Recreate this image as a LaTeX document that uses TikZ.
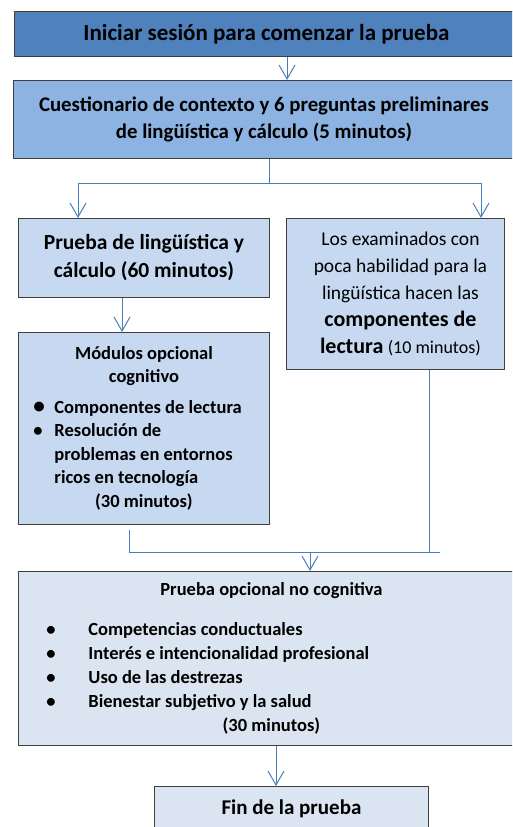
\documentclass[tikz,border=0pt]{standalone}
\usepackage{fontspec}
\setmainfont{Carlito}
\usetikzlibrary{arrows.meta}
\definecolor{dk}{HTML}{4F81BD}
\definecolor{md}{HTML}{8DB3E2}
\definecolor{lt}{HTML}{C6D9F1}
\definecolor{pl}{HTML}{DBE5F1}
\definecolor{ln}{HTML}{4A7EBB}
\begin{document}
\begin{tikzpicture}[x=1pt,y=-1pt,
    box/.style={draw=black!75,line width=0.9pt,anchor=north west,inner sep=0pt,align=center},
    arr/.style={draw=ln,line width=1pt,-{Straight Barb[length=14pt,width=16pt]}},
    lnk/.style={draw=ln,line width=1pt}]
\useasboundingbox (0,0) rectangle (512,827);
\clip (0,0) rectangle (512,827);
\fill[white] (0,0) rectangle (512,827);
\node[box,fill=dk,minimum width=504pt,minimum height=45pt,font=\bfseries\fontsize{23}{26}\selectfont] (ini) at (14,11) {Iniciar sesión para comenzar la prueba};
\node[box,fill=md,minimum width=501pt,minimum height=78pt,font=\bfseries\fontsize{20.8}{27}\selectfont] (cue) at (13,80) {Cuestionario de contexto y 6 preguntas preliminares\\de lingüística y cálculo (5 minutos)};
\node[box,fill=lt,minimum width=251pt,minimum height=79pt,font=\bfseries\fontsize{21.5}{28}\selectfont] (lin) at (18,218) {Prueba de lingüística y\\cálculo (60 minutos)};
\node[box,fill=lt,minimum width=218pt,minimum height=151pt,font=\fontsize{19.5}{27}\selectfont] (com) at (286,218) {\hspace*{10pt}Los examinados con\\\hspace*{10pt}poca habilidad para la\\\hspace*{10pt}lingüística hacen las\\\hspace*{10pt}{\bfseries\fontsize{22}{27}\selectfont componentes de}\\\hspace*{10pt}{\bfseries\fontsize{22}{27}\selectfont lectura} {\fontsize{18}{27}\selectfont(10 minutos)}};
\node[box,fill=lt,minimum width=251pt,minimum height=192pt,font=\bfseries\fontsize{18.5}{23.5}\selectfont] (mod) at (18,332) {\begin{tabular}{@{}p{21pt}@{}p{200pt}@{}}
\multicolumn{2}{c}{Módulos opcional}\\
\multicolumn{2}{c}{cognitivo}\\[7pt]
\scalebox{1.25}{\textbullet} & Componentes de lectura\\
\textbullet & Resolución de\\
 & problemas en entornos\\
 & ricos en tecnología\\
\multicolumn{2}{c}{(30 minutos)}
\end{tabular}};
\node[box,fill=pl,minimum width=506pt,minimum height=174pt,font=\bfseries\fontsize{18.5}{24}\selectfont] (opt) at (18,571) {\begin{tabular}{@{}p{42pt}@{}p{408pt}@{}}
\multicolumn{2}{c}{Prueba opcional no cognitiva}\\[16pt]
\textbullet & Competencias conductuales\\
\textbullet & Interés e intencionalidad profesional\\
\textbullet & Uso de las destrezas\\
\textbullet & Bienestar subjetivo y la salud\\
\multicolumn{2}{c}{(30 minutos)}
\end{tabular}};
\node[box,fill=pl,minimum width=274pt,minimum height=44pt,font=\bfseries\fontsize{21}{24}\selectfont] (fin) at (154,786) {Fin de la prueba};
\coordinate (a1) at (287,0);
\coordinate (sp) at (269,183);
\coordinate (l1) at (78,0);
\coordinate (r1) at (481,0);
\coordinate (a2) at (122,0);
\coordinate (jt) at (129,530);
\coordinate (jl) at (129,552);
\coordinate (jc) at (429,552);
\coordinate (jr) at (440,552);
\coordinate (jm) at (310,552);
\coordinate (a3) at (276,0);
\draw[arr] (ini.south -| a1) -- (cue.north -| a1);
\draw[lnk] (cue.south -| sp) -- (sp);
\draw[arr] (sp) -| (lin.north -| l1);
\draw[arr] (sp) -| (com.north -| r1);
\draw[arr] (lin.south -| a2) -- (mod.north -| a2);
\draw[lnk] (jt) -- (jl) -- (jr);
\draw[lnk] (com.south -| jc) -- (jc);
\draw[arr] (jm) -- (opt.north -| jm);
\draw[arr] (opt.south -| a3) -- (fin.north -| a3);
\end{tikzpicture}
\end{document}
